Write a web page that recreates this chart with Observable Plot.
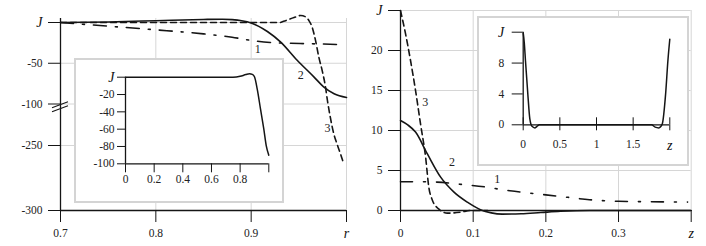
<!DOCTYPE html>
<html><head><meta charset="utf-8">
<script src="https://cdn.jsdelivr.net/npm/d3@7"></script>
<script src="https://cdn.jsdelivr.net/npm/@observablehq/plot@0.6"></script>
<style>
body{margin:0;background:#fff;}
#fig{position:relative;width:706px;height:246px;overflow:hidden;background:#fff;}
#fig svg{position:absolute;font-family:'Liberation Serif','Times New Roman',serif !important;}
#fig svg text{font-family:'Liberation Serif','Times New Roman',serif;}
</style></head><body><div id="fig"></div>
<script>
// ---------- Left panel: J(r) ----------
const r1 = [0.70,0.75,0.80,0.85,0.88,0.90,0.92,0.94,0.96,0.992];
const J1 = [0,-4.5,-9,-14,-18,-22,-24.5,-25.5,-26,-27];
const r2 = [0.70,0.75,0.80,0.85,0.87,0.88,0.89,0.90,0.917,0.931,0.948,0.966,0.976,0.987,1.0];
const J2 = [0,0.7,2.2,3.7,4,3.5,2.2,-0.5,-11,-24,-46,-67,-79,-87.5,-92];
const r3 = [0.70,0.80,0.90,0.93,0.934,0.945,0.952,0.957,0.9605,0.964,0.9675,0.971,0.9745,0.978,0.980,0.983,0.9867,0.990,0.9937,0.997];
const J3 = [0,0,0,0,1.5,6,8.6,7,2.5,-5.8,-22,-42.6,-59,-79.4,-95.7,-147.7,-208,-244,-256.4,-264];
const leftYTicks = [-300,-250,-100,-50,0];
const leftXTicks = [0.7,0.8,0.9,1.0];
const leftLabels = ["1","2","3"];
const leftLabelR = [0.907,0.952,0.980];
const leftLabelJ = [-33,-65,-189];
const breakR = [0.7], breakJ = [-112];

// Left inset
const rIn = [0,0.3,0.6,0.75,0.8,0.84,0.865,0.885,0.9,0.919,0.942,0.965,0.982,1.0];
const JIn = [0,0,0,0,1,3,3.9,3.2,0.5,-13.5,-36.6,-59.7,-79,-90];
const leftInYTicks = [-100,-80,-60,-40,-20,0];
const leftInXTicks = [0,0.2,0.4,0.6,0.8,1];

// ---------- Right panel: J(z) ----------
const z1 = [0,0.03,0.05,0.08,0.12,0.14,0.175,0.2,0.23,0.26,0.3,0.34,0.395];
const Jz1 = [3.6,3.6,3.55,3.3,2.9,2.6,2.2,1.95,1.65,1.35,1.15,1.1,1.05];
const z2 = [0,0.01,0.0207,0.0368,0.055,0.0736,0.092,0.11,0.125,0.14,0.166,0.193,0.22,0.26,0.3,0.4];
const Jz2 = [11.25,10.7,9.8,7.1,4.2,2.3,1.04,0.1,-0.3,-0.45,-0.4,-0.25,-0.1,0,0,0];
const z3 = [0,0.0069,0.0138,0.0207,0.0276,0.0345,0.039,0.044,0.0525,0.0645,0.083,0.097,0.12];
const Jz3 = [25,22.1,18.75,15,10.8,6.7,2.9,1.25,0.2,-0.33,-0.2,0,0];
const rightYTicks = [0,5,10,15,20,25];
const rightXTicks = [0,0.1,0.2,0.3,0.4];
const rightLabels = ["1","2","3"];
const rightLabelZ = [0.133,0.071,0.034];
const rightLabelJ = [3.9,6.0,13.5];

// Right inset
const zIn = [0,0.015,0.031,0.063,0.09,0.12,0.16,0.2,0.22,0.5,1,1.5,1.75,1.8,1.85,1.897,1.943,1.974,2.0];
const JzIn = [11.9,10.6,8.3,4,0.8,-0.2,-0.4,-0.1,0,0,0,0,0,-0.3,-0.4,0.1,4,8.3,11.1];
const rightInYTicks = [0,4,8,12];
const rightInXTicks = [0,0.5,1,1.5,2];

// ---------- helpers ----------
const ink = "#151515";
const gridColor = "#d6d6d6";
const serif = "'Liberation Serif', 'Times New Roman', serif";
const zip = (xs, ys, kx, ky) => xs.map((x, i) => ({[kx]: x, [ky]: ys[i]}));
const baseStyle = {fontFamily: serif, fontSize: "11.5px", color: "#222", background: "transparent", overflow: "visible"};
const fmt = (special, val) => d => (Math.abs(d - special) < 1e-9 ? val : String(d));
function italicize(svg) {
  d3.select(svg).selectAll("text").each(function () {
    const t = this.textContent.trim();
    if (t === "J" || t === "r" || t === "z") {
      d3.select(this).attr("font-style", "italic").attr("font-size", "14px").attr("fill", "#111");
    }
  });
  return svg;
}
function place(svg, left, top, inset) {
  svg.style.left = left + "px";
  svg.style.top = top + "px";
  svg.style.fontFamily = serif;
  svg.style.fontSize = "11.5px";
  if (inset) {
    svg.style.background = "#fff";
    svg.style.outline = "2px solid #d4d4d4";
    svg.style.outlineOffset = "-1px";
  }
  document.getElementById("fig").appendChild(svg);
}

// ---------- Left main ----------
const breakMark = (index, scales) => {
  const x0 = scales.x(breakR[0]), y0 = scales.y(breakJ[0]);
  const g = d3.create("svg:g").attr("stroke", ink).attr("stroke-width", 1.1);
  for (const o of [-2, 2]) {
    g.append("line").attr("x1", x0 - 8).attr("y1", y0 + o + 3).attr("x2", x0 + 8).attr("y2", y0 + o - 3);
  }
  return g.node();
};
const left = Plot.plot({
  width: 360, height: 246,
  marginLeft: 60, marginRight: 14, marginTop: 18, marginBottom: 36,
  style: baseStyle,
  x: {domain: [0.7, 1.0]},
  y: {type: "linear", domain: [-300, -250, -100, 0], range: [210, 145, 103.5, 22]},
  marks: [
    Plot.gridX({ticks: [0.8, 0.9, 1.0], stroke: gridColor, strokeOpacity: 1}),
    Plot.gridY({ticks: [-250, -100, -50, 0], stroke: gridColor, strokeOpacity: 1}),
    Plot.line(zip(r1, J1, "r", "J"), {x: "r", y: "J", stroke: ink, strokeWidth: 1.6, strokeDasharray: "13,9,2,9", curve: "monotone-x"}),
    Plot.line(zip(r3, J3, "r", "J"), {x: "r", y: "J", stroke: ink, strokeWidth: 1.6, strokeDasharray: "6,4", curve: "monotone-x"}),
    Plot.line(zip(r2, J2, "r", "J"), {x: "r", y: "J", stroke: ink, strokeWidth: 1.6, curve: "monotone-x"}),
    Plot.ruleX([0.7], {stroke: ink, strokeWidth: 1.3}),
    Plot.ruleY([-300], {stroke: ink, strokeWidth: 1.3}),
    Plot.axisY({ticks: leftYTicks, tickSize: 12, tickPadding: 6, tickFormat: fmt(0, "J"), label: null, stroke: ink}),
    Plot.axisX({ticks: leftXTicks, tickSize: 12, tickPadding: 6, tickFormat: d => (d === 1 ? "r" : d.toFixed(1)), label: null, stroke: ink}),
    Plot.text(leftLabels, {x: (d, i) => leftLabelR[i], y: (d, i) => leftLabelJ[i], text: d => d, fontSize: 12, fill: "#222"}),
    breakMark
  ]
});
place(italicize(left), 0, 0, false);

// ---------- Left inset ----------
const leftIn = Plot.plot({
  width: 208, height: 143,
  marginLeft: 50, marginRight: 14.7, marginTop: 17.7, marginBottom: 38.7,
  style: baseStyle,
  x: {domain: [0, 1]},
  y: {domain: [-100, 0]},
  marks: [
    Plot.line(zip(rIn, JIn, "r", "J"), {x: "r", y: "J", stroke: ink, strokeWidth: 1.5, curve: "monotone-x"}),
    Plot.ruleX([0], {stroke: ink, strokeWidth: 1.3}),
    Plot.ruleY([-100], {stroke: ink, strokeWidth: 1.3}),
    Plot.axisY({ticks: leftInYTicks, tickSize: 8, tickPadding: 3, tickFormat: fmt(0, "J"), label: null, stroke: ink}),
    Plot.axisX({ticks: leftInXTicks, tickSize: 9, tickPadding: 2, tickFormat: d => (d === 1 ? "" : String(d)), label: null, stroke: ink})
  ]
});
place(italicize(leftIn), 75, 59, true);

// ---------- Right main ----------
const right = Plot.plot({
  width: 346, height: 246,
  marginLeft: 40, marginRight: 15.3, marginTop: 10, marginBottom: 36,
  style: baseStyle,
  x: {domain: [0, 0.4]},
  y: {domain: [0, 25]},
  marks: [
    Plot.gridX({ticks: [0.1, 0.2, 0.3, 0.4], stroke: gridColor, strokeOpacity: 1}),
    Plot.gridY({ticks: [5, 10, 15, 20, 25], stroke: gridColor, strokeOpacity: 1}),
    Plot.line(zip(z1, Jz1, "z", "J"), {x: "z", y: "J", stroke: ink, strokeWidth: 1.6, strokeDasharray: "12,11,2,11", curve: "monotone-x"}),
    Plot.line(zip(z3, Jz3, "z", "J"), {x: "z", y: "J", stroke: ink, strokeWidth: 1.6, strokeDasharray: "6,4", curve: "monotone-x"}),
    Plot.line(zip(z2, Jz2, "z", "J"), {x: "z", y: "J", stroke: ink, strokeWidth: 1.6, curve: "monotone-x"}),
    Plot.ruleX([0], {stroke: ink, strokeWidth: 1.3}),
    Plot.ruleY([0], {stroke: ink, strokeWidth: 1.3}),
    Plot.axisY({ticks: rightYTicks, tickSize: 12, tickPadding: 6, tickFormat: fmt(25, "J"), label: null, stroke: ink}),
    Plot.axisX({ticks: rightXTicks, tickSize: 12, tickPadding: 6, tickFormat: d => (Math.abs(d - 0.4) < 1e-9 ? "z" : String(d)), label: null, stroke: ink}),
    Plot.text(rightLabels, {x: (d, i) => rightLabelZ[i], y: (d, i) => rightLabelJ[i], text: d => d, fontSize: 12, fill: "#222"})
  ]
});
place(italicize(right), 360, 0, false);

// ---------- Right inset ----------
const rightIn = Plot.plot({
  width: 210, height: 148,
  marginLeft: 44.7, marginRight: 18.7, marginTop: 14.7, marginBottom: 40.7,
  style: baseStyle,
  x: {domain: [0, 2]},
  y: {domain: [0, 12]},
  marks: [
    Plot.line(zip(zIn, JzIn, "z", "J"), {x: "z", y: "J", stroke: ink, strokeWidth: 1.5, curve: "monotone-x"}),
    Plot.ruleX([0], {stroke: ink, strokeWidth: 1.3}),
    Plot.ruleY([0], {stroke: ink, strokeWidth: 1.3}),
    Plot.axisY({ticks: rightInYTicks, tickSize: 11, tickPadding: 8, tickFormat: fmt(12, "J"), label: null, stroke: ink}),
    Plot.axisX({ticks: rightInXTicks, tickSize: 6, tickPadding: 9, tickFormat: d => (d === 2 ? "z" : String(d)), label: null, stroke: ink}),
    Plot.axisX({ticks: rightInXTicks, tickSize: -7, tickFormat: () => "", label: null, stroke: ink})
  ]
});
place(italicize(rightIn), 478, 17, true);
</script>
</body></html>
